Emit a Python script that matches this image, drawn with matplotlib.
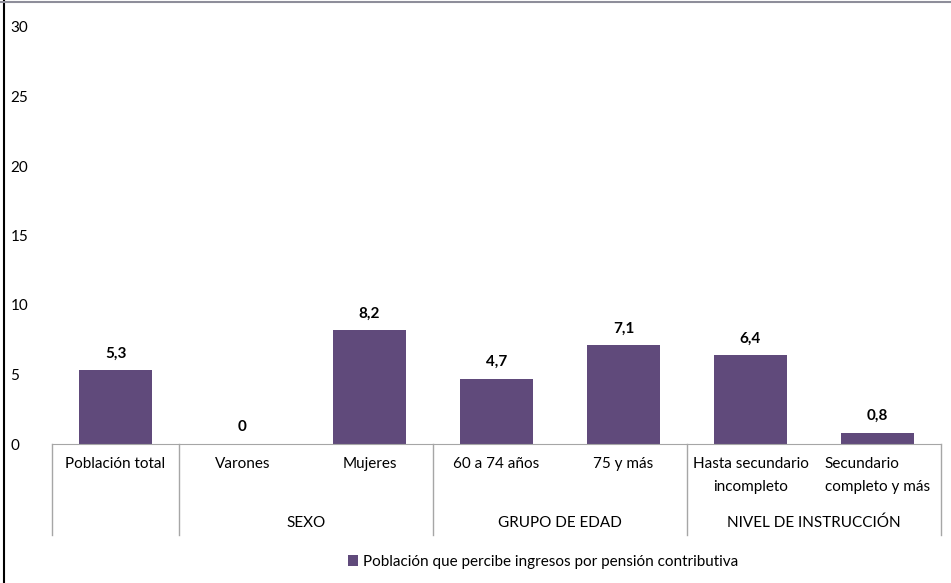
import matplotlib.pyplot as plt
from matplotlib.lines import Line2D
import matplotlib.transforms as mtransforms

plt.rcParams['font.family'] = ['Lato', 'DejaVu Sans']

# data
categorias = ['Población total', 'Varones', 'Mujeres', '60 a 74 años', '75 y más',
              'Hasta secundario\nincompleto', 'Secundario\ncompleto y más']
valores = [5.3, 0, 8.2, 4.7, 7.1, 6.4, 0.8]
etiquetas = ['5,3', '0', '8,2', '4,7', '7,1', '6,4', '0,8']
grupos = ['', 'SEXO', 'GRUPO DE EDAD', 'NIVEL DE INSTRUCCIÓN']
grupo_rango = [(0, 0), (1, 2), (3, 4), (5, 6)]
serie = 'Población que percibe ingresos por pensión contributiva'

color_barra = '#604A7B'
gris = '#A6A6A6'

fig = plt.figure(figsize=(9.51, 5.83), dpi=100)
ax = fig.add_axes([52 / 951, 139 / 583, 889 / 951, 417 / 583])

x = list(range(len(valores)))
barras = ax.bar(x, valores, width=0.57, color=color_barra, label=serie)
ax.set_xlim(-0.5, len(valores) - 0.5)
ax.set_ylim(0, 30)
ax.set_yticks(range(0, 31, 5))
ax.tick_params(axis='y', length=0, labelsize=11, pad=30)
for t in ax.get_yticklabels():
    t.set_horizontalalignment('left')
ax.tick_params(axis='x', length=0, labelbottom=False)
for s in ['top', 'right', 'left']:
    ax.spines[s].set_visible(False)
ax.spines['bottom'].set_color(gris)

for xi, v, lab in zip(x, valores, etiquetas):
    ax.annotate(lab, (xi, v), xytext=(0, 7), textcoords='offset points',
                ha='center', va='bottom', fontsize=11, fontweight='bold')

trans = mtransforms.blended_transform_factory(ax.transData, ax.transAxes)
for xi, cat in zip(x, categorias):
    ma = 'left' if cat.startswith('Secundario') else 'center'
    ax.text(xi, -0.03, cat, transform=trans, ha='center', va='top',
            fontsize=11, multialignment=ma, linespacing=1.9)

for (a, b), g in zip(grupo_rango, grupos):
    ax.text((a + b) / 2, -0.19, g, transform=trans, ha='center', va='center',
            fontsize=11)

bordes = [-0.5] + [b + 0.5 for a, b in grupo_rango]
for bx in bordes:
    ax.plot([bx, bx], [0, -0.218], transform=trans, color=gris, lw=1,
            clip_on=False)

fig.legend(handles=[barras], labels=[serie], loc='center',
           bbox_to_anchor=(0.571, 0.036), frameon=False, fontsize=11,
           handlelength=0.7, handleheight=0.7, handletextpad=0.3)

# chart frame
fig.add_artist(Line2D([4 / 951, 4 / 951], [0, 1], color='black', lw=1.5))
fig.add_artist(Line2D([0, 1], [1 - 1.5 / 583, 1 - 1.5 / 583], color='#8E8E9A', lw=1.5))

fig.savefig('out.png', dpi=100)
